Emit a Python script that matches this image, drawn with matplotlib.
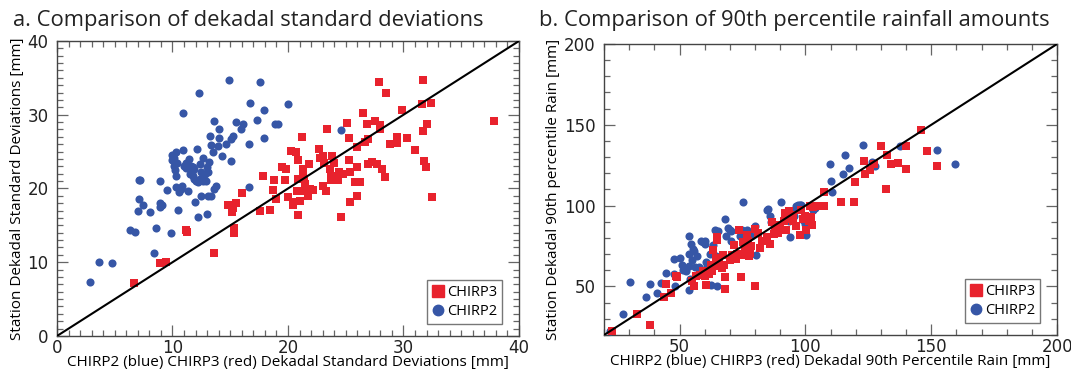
import matplotlib
matplotlib.use("Agg")
import matplotlib.pyplot as plt
from matplotlib.ticker import MultipleLocator
from matplotlib.lines import Line2D

# Panel a: dekadal standard deviations [mm]
sd_chirp2_x = [2.84, 3.65, 4.75, 6.28, 6.73, 7.06, 7.15, 7.06, 7.0, 7.47, 8.07, 8.4, 8.55,
               8.9, 8.9, 8.94, 9.1, 9.5, 9.84, 9.95, 10.1, 10.0, 10.1, 10.2, 10.3, 10.3,
               10.5, 10.55, 10.3, 10.7, 10.85, 10.9, 10.95, 11.0, 11.15, 11.3, 11.45, 11.6,
               11.66, 11.75, 11.84, 11.9, 11.96, 12.1, 12.3, 12.2, 12.35, 12.4, 12.5, 12.5,
               12.6, 12.65, 12.9, 13.0, 13.0, 13.1, 13.1, 13.2, 13.25, 13.3, 13.35, 13.5,
               13.6, 13.6, 13.75, 13.9, 14.05, 14.05, 14.3, 14.65, 14.9, 15.04, 15.1, 15.2,
               15.5, 15.9, 16.1, 16.6, 16.6, 16.7, 17.3, 17.6, 17.9, 17.9, 18.9, 19.1, 20.0,
               24.6, 11.2, 11.5, 12.0, 12.2, 11.8, 12.8, 10.4]
sd_chirp2_y = [7.26, 10.1, 9.9, 14.4, 14.1, 21.1, 21.1, 18.6, 17.0, 17.7, 16.8, 11.3, 14.6,
               21.0, 17.5, 18.0, 17.8, 19.8, 13.9, 24.5, 24.2, 23.8, 23.1, 22.5, 21.7, 25.0,
               17.1, 19.5, 20.2, 19.9, 20.4, 30.3, 25.2, 23.1, 23.5, 19.7, 24.0, 23.1,
               22.2, 21.7, 21.3, 22.6, 18.2, 25.4, 33.0, 16.1, 23.3, 21.3, 19.0, 22.2,
               21.0, 24.2, 21.0, 16.5, 22.9, 22.2, 19.0, 23.6, 27.1, 19.0, 25.9, 25.0,
               29.1, 19.9, 20.3, 25.7, 28.0, 26.9, 24.4, 26.1, 34.7, 26.7, 23.7, 27.1,
               29.0, 28.1, 28.7, 26.1, 20.2, 31.6, 29.3, 34.5, 30.6, 26.9, 28.8, 28.8, 31.4,
               27.9, 22.8, 21.9, 21.0, 20.9, 22.9, 22.0, 23.4]
sd_chirp3_x = [6.64, 8.88, 9.42, 11.18, 11.24, 13.57, 14.8, 15.16, 15.25, 15.3, 15.34, 15.5,
               16.05, 17.6, 17.8, 18.4, 18.7, 18.8, 19.0, 19.46, 19.7, 19.85, 20.0, 20.26,
               20.4, 20.4, 20.7, 20.8, 20.9, 20.9, 20.9, 21.0, 21.2, 21.2, 21.3, 21.3, 21.4,
               21.5, 21.6, 21.7, 21.8, 21.9, 22.15, 22.7, 22.8, 23.0, 23.05, 23.1, 23.3,
               23.4, 23.6, 23.7, 23.7, 23.85, 23.99, 24.15, 24.3, 24.45, 24.6, 24.75, 25.1,
               25.3, 25.3, 25.4, 25.4, 25.8, 25.95, 26.0, 26.0, 26.25, 26.5, 26.7, 26.85,
               26.94, 26.94, 27.3, 27.5, 27.7, 27.9, 28.0, 28.0, 28.1, 28.4, 28.5, 28.85,
               29.4, 29.4, 29.9, 30.3, 31.0, 31.6, 31.7, 31.7, 31.8, 31.95, 32.0, 32.4,
               32.5, 37.8]
sd_chirp3_y = [7.2, 9.96, 10.05, 14.4, 14.07, 11.3, 17.7, 16.86, 17.4, 14.6, 13.98, 18.0,
               19.4, 17.0, 21.7, 17.1, 19.8, 21.1, 18.6, 22.9, 21.1, 22.6, 18.9, 25.1,
               18.2, 17.7, 25.0, 19.6, 23.8, 16.4, 21.3, 18.35, 19.7, 27.0, 22.0, 22.6, 21.3,
               20.6, 19.7, 19.0, 23.3, 19.9, 19.8, 25.3, 24.1, 20.4, 24.4, 23.4, 19.7,
               28.0, 22.7, 21.7, 21.1, 24.4, 23.5, 21.3, 21.1, 22.2, 16.2, 22.0, 28.9,
               26.9, 23.8, 22.2, 18.2, 20.9, 25.6, 22.9, 19.0, 20.9, 30.2, 26.3, 28.8,
               26.7, 23.3, 23.6, 29.1, 23.3, 34.5, 28.6, 28.0, 22.6, 21.6, 33.0, 26.1,
               27.0, 26.2, 30.6, 26.9, 25.2, 31.4, 34.7, 27.8, 23.7, 22.9, 28.7, 31.6,
               18.9, 29.2]

# Panel b: dekadal 90th percentile rain [mm]
p90_chirp2_x = [22.2, 27.5, 30.5, 36.8, 38.1, 41.2, 42.5, 44.5, 47.7, 47.8, 48.2, 50.3, 51.1,
                51.5, 52.7, 53.6, 53.7, 53.8, 54.1, 53.8, 54.5, 54.8, 55.2, 55.9, 56.2, 56.8,
                57.9, 58.6, 59.3, 60.0, 60.1, 60.7, 61.1, 62.1, 62.6, 63.4, 64.1, 64.5, 64.8,
                65.2, 68.2, 68.5, 69.3, 70.0, 70.3, 70.5, 74.1, 74.7, 75.1, 76.4, 76.8, 78.5,
                79.9, 80.5, 84.9, 85.3, 86.0, 86.3, 90.5, 91.9, 92.9, 93.6, 93.8, 94.9, 95.6,
                96.3, 97.0, 97.7, 98.4, 99.0, 100.0, 100.4, 103.2, 103.8, 109.7, 110.0, 110.4,
                114.8, 115.9, 117.5, 123.0, 126.4, 127.8, 137.4, 152.1, 159.3]
p90_chirp2_y = [22.5, 32.9, 52.7, 43.8, 51.4, 45.9, 52.1, 58.3, 66.9, 57.6, 50.4, 67.6, 63.0,
                60.3, 59.3, 81.4, 70.0, 62.4, 54.5, 47.7, 76.4, 66.5, 73.1, 71.7, 62.0, 68.6,
                61.8, 78.1, 77.3, 77.9, 76.0, 64.9, 62.4, 70.2, 51.0, 75.8, 85.1, 68.6, 50.6,
                84.1, 91.7, 81.0, 86.2, 85.1, 84.1, 77.9, 81.4, 85.1, 102.5, 81.4, 85.1, 81.0,
                87.2, 69.6, 97.1, 97.9, 93.4, 89.7, 102.5, 91.7, 95.5, 90.3, 80.6, 96.9, 93.8,
                99.6, 100.2, 100.2, 100.2, 91.3, 88.8, 81.8, 97.5, 98.6, 125.8, 115.1, 108.3,
                119.6, 131.2, 123.3, 137.4, 127.1, 124.8, 136.8, 134.3, 126.0]
p90_chirp3_x = [23.0, 32.9, 38.1, 44.0, 44.5, 46.7, 48.4, 49.0, 54.8, 55.9, 56.6, 58.2, 59.3,
                60.0, 60.7, 61.1, 61.8, 62.3, 62.9, 63.4, 64.1, 64.4, 64.8, 64.8, 65.8, 66.8,
                67.3, 67.5, 67.9, 68.2, 70.0, 71.0, 71.6, 72.3, 73.0, 73.7, 74.4, 75.1, 75.8,
                76.2, 76.7, 77.1, 77.4, 77.8, 78.5, 79.9, 80.1, 81.2, 81.9, 82.6, 84.7, 86.0,
                86.7, 87.4, 88.1, 89.0, 89.5, 89.9, 91.5, 91.8, 92.2, 92.9, 93.6, 94.9, 94.9,
                96.3, 97.7, 98.4, 99.0, 100.0, 100.4, 101.4, 101.8, 102.2, 102.5, 103.2, 104.5,
                107.5, 107.3, 114.1, 119.2, 119.9, 123.4, 123.7, 125.8, 127.1, 129.9, 131.9,
                132.6, 134.2, 136.7, 139.9, 140.1, 145.9, 148.4, 152.2]
p90_chirp3_y = [22.5, 32.9, 26.2, 43.8, 51.7, 45.9, 56.2, 55.8, 53.7, 50.4, 56.2, 57.2, 59.3,
                56.2, 51.0, 59.7, 57.6, 63.0, 59.3, 72.7, 62.4, 67.4, 80.6, 78.9, 65.5, 61.4,
                69.6, 63.4, 48.3, 55.8, 66.1, 69.6, 75.8, 66.9, 70.2, 85.1, 55.6, 77.3, 69.6,
                74.4, 82.0, 77.9, 68.6, 70.7, 74.8, 50.6, 85.5, 83.1, 73.8, 77.9, 80.6, 76.4,
                89.7, 82.6, 85.1, 83.1, 88.2, 87.2, 90.3, 95.5, 85.1, 91.9, 96.5, 94.4, 90.7,
                87.2, 81.6, 97.5, 91.7, 93.8, 85.1, 90.3, 99.6, 93.0, 88.2, 99.2, 99.6,
                99.6, 108.3, 102.3, 102.3, 114.9, 127.5, 119.6, 122.3, 126.0, 137.2, 110.3,
                131.2, 126.0, 126.4, 136.8, 122.9, 147.1, 134.1, 124.8]

sd_limits = [0, 40]
p90_limits = [20, 200]

RED = "#E8222D"
BLUE = "#3656A6"
TEXT_FONT = "Open Sans"


def style_axes(ax, limits, major, minor):
    ax.set_xlim(limits)
    ax.set_ylim(limits)
    ax.xaxis.set_major_locator(MultipleLocator(major))
    ax.yaxis.set_major_locator(MultipleLocator(major))
    ax.xaxis.set_minor_locator(MultipleLocator(minor))
    ax.yaxis.set_minor_locator(MultipleLocator(minor))
    ax.tick_params(which="both", direction="in", top=True, right=True,
                   color="#666666", width=0.9, labelsize=12, labelcolor="#222222")
    ax.tick_params(which="major", length=8)
    ax.tick_params(which="minor", length=4.5)
    ax.tick_params(axis="y", pad=6)
    ax.tick_params(axis="x", pad=2)
    for spine in ax.spines.values():
        spine.set_color("#444444")
        spine.set_linewidth(1.0)


def add_legend(ax):
    handles = [
        Line2D([], [], ls="none", marker="s", ms=8, color=RED),
        Line2D([], [], ls="none", marker="o", ms=7.5, color=BLUE),
    ]
    leg = ax.legend(handles, ["CHIRP3", "CHIRP2"], loc="lower right",
                    bbox_to_anchor=(0.963, 0.04), fancybox=False, framealpha=1,
                    edgecolor="#777777", handlelength=0.8, handletextpad=0.2,
                    borderpad=0.35, labelspacing=0.3, borderaxespad=0,
                    prop={"family": TEXT_FONT, "size": 10.5})
    leg.get_frame().set_linewidth(1.0)


fig = plt.figure(figsize=(10.71, 3.70), dpi=100)
ax1 = fig.add_axes([0.0532, 0.0919, 0.4314, 0.7973])
ax2 = fig.add_axes([0.5640, 0.0946, 0.4230, 0.7865])

# panel a
ax1.scatter(sd_chirp2_x, sd_chirp2_y, s=34, marker="o", color=BLUE, linewidths=0, zorder=3)
ax1.scatter(sd_chirp3_x, sd_chirp3_y, s=36, marker="s", color=RED, linewidths=0, zorder=3)
ax1.plot(sd_limits, sd_limits, color="black", lw=1.5, zorder=4)
style_axes(ax1, sd_limits, 10, 1)
ax1.set_xlabel("CHIRP2 (blue) CHIRP3 (red) Dekadal Standard Deviations [mm]",
               family=TEXT_FONT, fontsize=11, labelpad=-1)
ax1.set_ylabel("Station Dekadal Standard Deviations [mm]", family=TEXT_FONT,
               fontsize=11, labelpad=2)
add_legend(ax1)
fig.text(0.012, 0.93, "a. Comparison of dekadal standard deviations",
         family=TEXT_FONT, fontsize=15.8, color="#222222")

# panel b
ax2.scatter(p90_chirp2_x, p90_chirp2_y, s=34, marker="o", color=BLUE, linewidths=0, zorder=3)
ax2.scatter(p90_chirp3_x, p90_chirp3_y, s=36, marker="s", color=RED, linewidths=0, zorder=3)
ax2.plot(p90_limits, p90_limits, color="black", lw=1.5, zorder=4)
style_axes(ax2, p90_limits, 50, 10)
ax2.set_xlabel("CHIRP2 (blue) CHIRP3 (red) Dekadal 90th Percentile Rain [mm]",
               family=TEXT_FONT, fontsize=11, labelpad=-1)
ax2.set_ylabel("Station Dekadal 90th percentile Rain [mm]", family=TEXT_FONT,
               fontsize=11, labelpad=2)
add_legend(ax2)
fig.text(0.503, 0.93, "b. Comparison of 90th percentile rainfall amounts",
         family=TEXT_FONT, fontsize=15.8, color="#222222")

fig.savefig("out.png", dpi=100)
